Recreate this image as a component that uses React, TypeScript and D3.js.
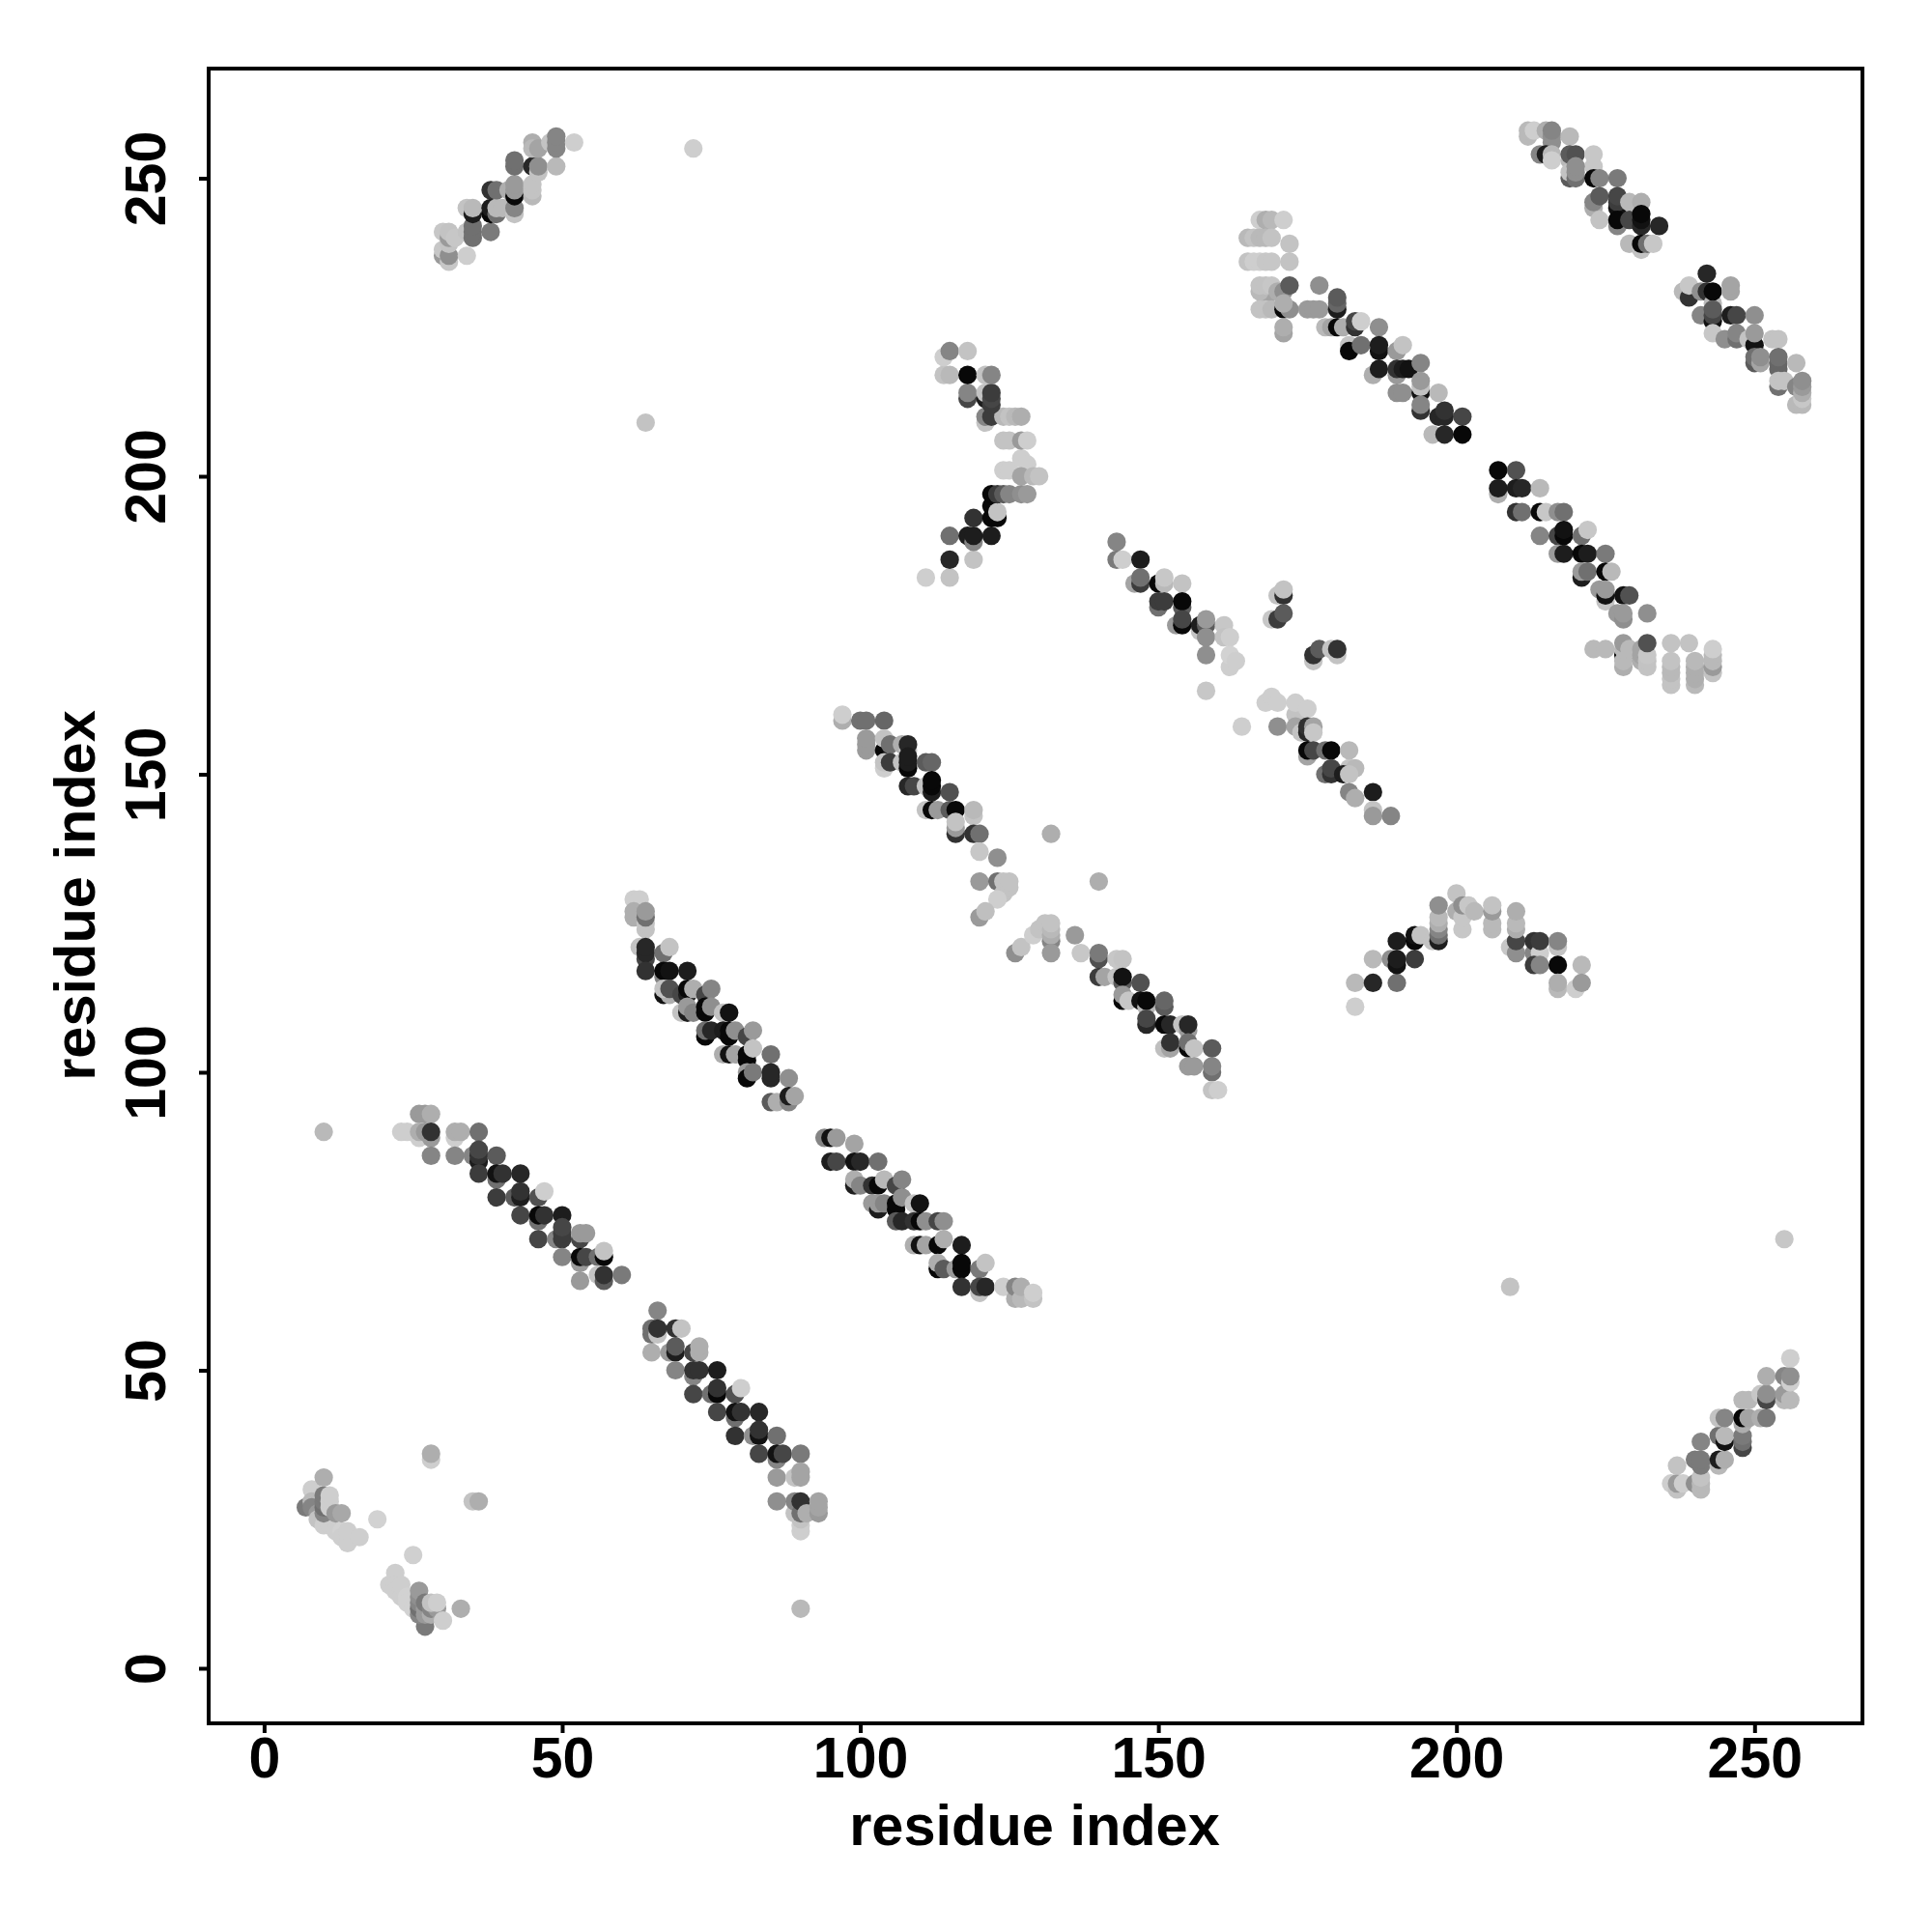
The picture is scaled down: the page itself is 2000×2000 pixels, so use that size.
import * as d3 from 'd3';
import { useEffect, useRef } from 'react';

// each point: [residue i, residue j, score] (score 0 = faint, 10 = strongest)
type Pt = [number, number, number];

const loose: Pt[] = [[10,90,1.5],[209,64,1],[132,140,2],[140,132,2],[90,10,1.5],[64,209,1],[72,255,.5],[255,72,.8],[164,158,.5],[158,164,.8],[28,35,.5],[28,36,2],[35,28,1],[36,28,2],[19,25,.3],[25,19,.4]];

const cornerA: Pt[] = [[7,27,4.5],[8,30,.5],[8,28,1.5],[8,27,4],[9,26,3],[9,25,1],[10,24,.5],[11,24,.5],[12,23,.5],[13,23,.3],[13,22,.5],[14,21,.5],[14,23,.5],[16,22,.5],[10,26,4],[10,27,5],[10,28,4.5],[10,29,4.5],[10,32,2],[11,27,.5],[11,28,.5],[11,29,.5],[12,26,3],[13,26,2.3]];
const cornerB: Pt[] = [[22,16,.5],[21,14,.5],[22,14,.5],[22,13,.5],[23,13,.5],[23,12,.5],[23,14,.5],[24,12,.3],[24,11,.3],[25,10,.3],[27,7,4.5],[26,9,4],[26,10,5],[26,11,4],[26,12,3.5],[26,13,3],[27,9,3],[27,10,3],[27,11,4.5],[28,9,2],[28,10,4],[29,10,3],[33,10,2],[28,11,1],[29,11,.5],[30,8,.5]];

const strandB: Pt[] = [[26,93,3],[27,93,3],[28,93,2],[23,90,.5],[24,90,.5],[26,89,.5],[28,89,3],[26,90,2],[27,90,3],[28,90,8],[32,89,.5],[32,90,2],[33,90,2],[36,90,5],[28,86,4],[32,86,4],[35,86,4],[36,85,9],[36,86,8],[36,87,7],[39,86,6],[36,83,7.5],[39,82,5],[39,83,9.5],[40,83,8],[43,83,8.5],[39,79,7.5],[42,79,6],[43,79,9],[43,80,8],[46,79,6.5],[47,80,.5],[43,76,7],[46,75,5],[46,76,10],[47,76,8],[50,76,9],[46,72,7],[49,72,4],[50,72,7.5],[50,73,7.5],[50,74,7],[53,72,7],[53,73,3],[54,73,3],[50,69,4],[53,68,3],[53,69,10],[54,69,7],[56,69,5],[57,69,10],[57,70,1],[53,65,3],[56,66,1],[57,65,6],[57,66,8],[60,66,4.5]];

const strandC: Pt[] = [[66,60,4],[65,56,5],[65,57,5],[66,56,1],[66,57,8],[69,57,8],[70,57,1],[65,53,2],[68,53,3],[69,53,9],[69,54,6],[72,53,7],[73,53,2],[73,54,2],[69,50,4],[72,49,4],[72,50,8],[73,50,8],[76,50,9],[72,46,7],[75,46,5],[76,46,10],[76,47,8],[79,46,6.5],[80,47,.5],[76,43,7],[79,42,5],[79,43,9.5],[80,43,8],[83,43,8.5],[79,39,8],[82,39,3.5],[83,39,9.5],[83,40,8],[86,39,5],[83,36,7],[86,35,4],[86,36,9.5],[87,36,7],[90,36,4.5],[86,32,3],[89,32,1],[90,32,2.5],[90,33,2.5],[86,28,3.5],[90,23,.5],[90,24,.5],[90,25,1],[89,26,1],[89,28,4],[90,26,5],[90,28,8],[91,26,2],[93,26,3],[93,27,2.5],[93,28,2.5]];

const strandD: Pt[] = [[62,129,.5],[63,129,.5],[62,126,2],[62,127,2],[64,124,1],[64,125,1],[64,126,5],[64,127,3],[63,121,1],[64,119,7],[64,120,8.5],[64,121,8.5],[67,120,5],[68,121,1],[67,116,4],[64,117,8],[67,117,10],[68,117,9.5],[71,117,9],[67,113,9.5],[68,113,2],[67,114,1],[68,114,6.5],[70,113,7],[71,113,9],[71,114,10],[72,114,2],[74,113,7],[75,114,4],[70,110,1],[71,110,9],[71,111,3],[72,110,4],[74,110,10],[74,111,10],[75,111,3.5],[77,110,1],[78,110,9.5],[74,106,10],[74,107,5],[75,107,8.5],[77,107,9],[78,106,10],[78,107,10],[79,107,3.5],[81,106,7],[82,107,3],[77,103,2],[78,103,9.5],[79,103,2.5],[81,102,10],[81,103,10],[82,104,1],[85,103,5],[81,100,3],[81,99,10],[82,100,4.5],[85,99,8.5],[85,100,8.5],[88,99,3.5],[85,95,6],[86,95,2],[88,95,4],[88,96,9],[89,96,2.5]];

const strandE: Pt[] = [[94,89,4],[95,89,9.5],[96,89,3],[99,88,2.5],[95,85,9],[96,85,7],[99,85,9.5],[100,85,8.5],[103,85,5],[99,81,9],[99,82,2],[100,81,4],[102,81,8],[103,81,10],[104,82,1.5],[106,81,7],[107,82,4],[102,78,3],[103,77,9],[103,78,3],[104,78,4],[106,77,10],[106,78,10],[107,79,3.5],[109,78,1],[110,78,9.5],[106,75,6],[107,75,8.5],[109,75,8],[110,75,10],[111,75,3.5],[113,75,7],[114,75,3.5],[109,71,2],[110,71,9.5],[111,71,2.5],[113,71,10],[114,72,2],[117,71,9],[113,67,10],[113,68,2],[114,67,6],[116,67,3],[117,67,10],[117,68,10],[120,67,4.5],[121,68,1],[117,64,8],[120,63,1],[120,64,7],[121,64,8.5],[124,64,.5],[126,62,2],[126,64,4],[127,62,1.5],[127,64,2],[129,62,1],[129,63,.5]];

const strandF: Pt[] = [[97,159,2],[97,160,.5],[100,159,5],[101,159,5],[104,159,5.5],[101,154,3],[101,155,3],[101,156,3],[104,154,10],[104,156,1],[105,155,5],[107,155,2],[108,154,1],[108,155,8.5],[104,151,.5],[104,152,1],[105,152,7.5],[107,152,1],[108,151,10],[108,152,9],[108,153,9],[111,152,6],[112,152,5.5],[108,148,8.5],[109,148,7],[111,148,1],[112,147,9],[112,148,10.5],[112,149,10],[115,147,6.5],[111,144,1],[112,144,10],[113,144,3],[115,144,6],[116,144,10],[119,143,1],[119,144,1.5],[116,140,8],[116,141,3],[116,142,1],[119,140,8],[120,140,5],[120,137,.8],[123,136,3.5],[120,132,3],[123,132,5],[124,130,1],[124,132,1],[125,131,1],[125,132,1],[123,129,.5],[120,126,3],[121,127,1.2]];

const strandG: Pt[] = [[126,120,3.5],[127,121,1],[129,123,.5],[130,124,1],[131,125,1],[132,122,4],[132,123,2],[132,124,1.5],[132,125,1],[132,120,3],[136,123,3],[137,120,.8],[140,119,6.5],[140,120,4.5],[140,116,7.5],[141,116,2.5],[143,119,.8],[144,119,1],[143,116,1],[144,115,6],[144,116,9.5],[147,115,6.5],[144,112,10],[144,113,3],[145,112,.8],[147,112,9.5],[148,111,1.5],[148,112,10.5],[151,111,6],[151,112,5.5],[148,108,8.5],[148,109,7],[151,108,10],[152,108,8.5],[154,108,1],[155,107,3],[155,108,8.5],[151,104,1.2],[152,104,2.5],[152,105,8],[155,104,10],[155,105,5],[156,104,1],[159,104,6],[155,101,3],[156,101,3],[159,100,5],[159,101,4],[159,97,1],[160,97,.5]];

const strandI: Pt[] = [[143,189,4],[143,186,4.5],[144,186,.5],[147,186,9],[146,182,2.5],[147,182,7.5],[147,183,5],[150,182,10],[151,182,1.5],[151,183,.8],[154,182,1],[150,178,5],[150,179,7.5],[151,179,7.5],[154,178,6],[154,179,10],[153,175,3],[154,175,10],[154,176,7],[157,174,1],[157,175,9],[158,175,6],[158,176,3],[158,173,3.5],[161,175,.8],[161,173,1],[162,173,.5],[158,170,3.5],[162,168,.5],[162,170,.3],[163,169,.5],[170,180,1],[171,180,8],[171,181,1],[169,176,.8],[170,176,7.5],[171,177,6],[176,169,1],[176,170,8],[177,171,6],[179,171,1],[180,170,1],[180,171,8],[168,162,.5],[169,163,.5],[170,162,.5],[173,160,1],[173,162,.5],[175,161,.5],[170,158,3.5],[173,158,2.5],[174,157,1],[175,157,8.5],[175,158,8],[176,158,2.5],[176,157,.8],[175,153,2.5],[175,154,10],[176,154,7],[178,154,5],[179,154,10],[182,154,1.5],[178,150,5],[179,150,8],[179,151,7],[182,151,1],[183,151,1.5],[181,150,9],[182,150,1],[182,147,4],[183,146,2],[186,147,9],[186,144,1],[186,143,3],[189,143,4]];

const curveH: Pt[] = [[111,183,.5],[115,183,1],[115,186,8.5],[119,186,1],[115,190,5],[118,190,9],[119,189,4],[119,190,9],[122,190,9],[119,193,8],[122,193,10],[122,195,10],[123,193,10],[123,194,1],[122,197,10],[123,197,7.5],[124,197,6],[125,197,4],[127,197,3.5],[128,197,3],[124,201,.5],[125,201,.5],[127,203,.5],[128,202,.5],[127,200,2.5],[129,200,1.5],[130,200,1],[124,206,1],[125,206,1],[127,206,3],[128,206,.5],[121,209,1],[121,210,4],[122,210,7.5],[124,210,1.5],[125,210,1],[126,210,1.5],[127,210,2],[118,213,7],[118,214,4],[121,213,9],[121,214,1],[122,212,7.5],[122,213,7],[122,214,7.5],[114,217,1],[115,217,1.5],[118,217,10.5],[121,217,1],[122,217,4],[114,220,.5],[115,221,4],[118,221,1]];

const strandTopLeft: Pt[] = [[30,237,3],[30,238,.8],[31,236,.8],[31,237,3.5],[34,237,.5],[30,241,.8],[31,239,1],[31,240,3],[31,241,1],[32,240,.8],[34,241,1],[35,240,5],[35,241,5],[35,242,5],[38,241,4.5],[34,245,1],[35,244,9],[35,245,1.5],[38,244,10],[38,245,9],[39,244,5],[39,245,1.5],[40,245,1.5],[42,244,1],[42,245,4],[38,248,8],[39,248,5],[41,248,2],[42,247,10],[42,248,3],[42,249,3],[45,247,1.5],[45,248,1],[45,249,1],[42,252,5],[42,253,5],[45,252,8.5],[46,251,1],[46,252,3.5],[49,252,1.5],[45,256,2],[45,255,1.5],[46,255,2.5],[48,256,1],[49,255,4],[49,256,4],[49,257,4],[52,256,.5]];

const strandTopRight: Pt[] = [[212,257,1.5],[212,258,1.5],[213,258,.5],[215,258,2],[216,256,3.5],[216,257,3.5],[216,258,4],[219,257,1.5],[214,254,4],[215,254,9],[216,254,1.5],[216,253,.5],[219,253,1.5],[219,254,6],[220,254,6.5],[223,252,.8],[223,254,.8],[219,250,6],[219,251,1],[220,250,5],[220,251,3.5],[220,252,3.5],[223,250,10],[224,250,4],[227,250,4.5],[223,245,2],[223,246,4],[224,247,6],[227,245,9.5],[227,246,7.5],[227,247,7],[229,246,1.5],[231,246,2],[224,243,1],[227,242,4],[227,243,10],[229,243,7],[231,242,8.5],[231,243,9.5],[231,244,10],[234,242,8.5],[229,239,1.5],[231,238,1],[231,239,10],[232,239,5],[233,239,.8]];

const strandFarRight: Pt[] = [[242,234,8.5],[238,231,1.5],[239,230,8],[239,232,.8],[241,231,3.5],[242,231,8],[243,229,1.5],[243,231,10],[246,231,2.5],[246,232,2.5],[241,227,4],[243,226,9.5],[243,227,7],[243,228,6],[246,227,9],[247,227,7],[250,227,3.5],[243,224,.8],[245,223,3.5],[247,223,5],[247,224,4],[249,223,1],[250,222,9.5],[250,224,3],[253,223,1],[254,223,1],[250,219,6],[250,220,5],[251,219,2.5],[251,220,3.5],[254,218,5.5],[254,219,5.5],[254,220,5],[257,219,1.5],[254,215,5],[254,216,1],[255,216,1],[257,212,1.5],[258,212,1.5],[258,213,.8],[257,215,4],[258,214,2],[258,215,3],[258,216,3.5]];

const blockTop: Pt[] = [[167,243,.5],[168,243,2],[169,243,1.5],[171,243,.5],[165,240,1.5],[166,240,1],[167,240,1.5],[168,240,1.5],[169,240,1],[172,239,1],[165,236,1],[166,236,.5],[167,236,.5],[168,236,.8],[169,236,.8],[172,236,1],[168,230,2.5],[167,231,1.5],[167,232,1],[168,232,1],[169,232,.8],[170,231,2],[171,231,3.5],[172,232,6],[167,228,1],[168,228,1],[169,228,1.5],[171,228,10],[172,228,3.5],[171,229,2],[171,224,2.5],[171,225,2]];

const strandLongA: Pt[] = [[177,232,3.5],[175,228,3],[176,228,3],[177,228,3],[180,228,9],[180,229,5.5],[180,230,6],[178,225,1.5],[179,225,2.5],[180,225,10],[181,225,2],[183,225,8],[183,226,7],[184,226,.5],[187,225,3.5],[182,222,1],[182,221,10],[184,222,5],[187,221,9.5],[187,222,9],[190,221,3],[191,222,1],[186,217,2],[187,218,9],[190,217,3],[190,218,8],[191,218,9],[192,218,9.5],[194,219,4],[190,214,3.5],[191,214,3.5],[194,214,9.5],[194,215,1],[194,216,3],[197,214,1.5],[194,211,8],[194,212,4],[197,210,8.5],[198,210,8.5],[198,211,8],[201,210,7],[196,207,1.5],[198,207,8.5],[201,207,10]];

const strandLongB: Pt[] = [[207,201,10],[210,201,6.5],[207,197,2],[207,198,9],[210,198,9],[211,198,8.5],[214,198,1.5],[210,194,8],[211,194,5],[214,194,10],[215,194,.8],[217,194,3.5],[218,194,5],[214,190,4],[217,190,7],[218,190,10],[218,191,9.5],[221,190,5],[222,191,.8],[217,187,3],[218,187,9],[221,187,10],[222,187,9],[225,187,4.5],[221,183,9],[221,184,3],[222,184,5],[225,184,10],[226,184,1.5],[224,181,3],[225,179,1],[225,180,9.5],[225,181,3],[228,180,9.5],[229,180,6.5],[227,177,3],[228,176,3.5],[228,177,3],[232,177,3.5]];

const blockBottom: Pt[] = [[223,171,1.5],[225,171,1.5],[228,170,10],[228,168,2],[228,169,1.5],[228,171,1.5],[228,172,3],[229,171,1.5],[231,169,2],[231,170,2.5],[231,171,2.5],[232,168,1],[232,169,1],[232,170,.8],[232,172,6.5],[236,165,1],[236,166,1],[236,167,1.5],[236,168,1.5],[236,169,1],[236,172,1],[239,172,1],[240,165,1.5],[240,166,2],[240,167,2],[240,168,2],[240,169,1.5],[243,167,1],[243,168,3],[243,169,1.5],[243,170,1.5],[243,171,.5]];

const curveJ: Pt[] = [[183,111,.5],[183,115,1.5],[186,115,8.5],[186,119,1.5],[190,115,5],[189,119,3.5],[190,118,9.5],[190,119,9],[193,119,7.5],[190,122,9],[193,122,10],[193,123,9.5],[194,123,1],[196,122,1],[197,122,9],[197,123,5],[197,124,4],[197,125,2],[197,126,1.5],[197,128,3.5],[200,127,2],[200,130,1],[201,124,.8],[201,126,.8],[201,128,3.5],[202,128,.8],[203,127,1.5],[206,124,1.5],[206,125,1.5],[206,127,3],[206,128,1],[209,121,.8],[210,120,3.5],[210,122,7],[210,124,2],[210,125,1.5],[210,127,2],[213,120,4],[213,122,8],[214,120,.5],[214,122,7.5],[217,121,1],[217,122,4],[213,118,7.5],[214,118,4],[217,118,10.5],[221,118,1.5],[217,114,1.5],[217,115,2],[220,114,.5],[221,115,3]];

const strandK: Pt[] = [[236,31,.5],[237,30,1],[237,31,3],[238,31,.5],[237,34,1],[240,31,3.5],[241,30,1.5],[241,31,1.5],[241,32,1],[240,35,4.5],[241,34,4.5],[241,35,4.5],[244,34,1.5],[244,35,9],[245,35,2],[241,38,4],[244,39,5],[245,38,9.5],[245,39,1.5],[248,37,7],[248,38,5],[248,39,4.5],[244,42,1],[245,42,4],[248,41,2],[248,42,10],[249,42,2.5],[251,42,2],[252,42,4.5],[248,45,1.5],[249,45,1.5],[251,46,.8],[252,45,7],[252,46,3.5],[255,45,1.5],[255,46,3],[256,45,1.5],[252,49,2],[255,49,4],[256,48,.5],[256,49,3.5],[256,52,.5]];

const groups: Pt[][] = [loose, cornerA, cornerB, strandB, strandC, strandD, strandE, strandF, strandG, strandI, curveH, strandTopLeft, strandTopRight, strandFarRight, blockTop, strandLongA, strandLongB, blockBottom, curveJ, strandK];

const xTicks = [0, 50, 100, 150, 200, 250];
const yTicks = [0, 50, 100, 150, 200, 250];
const axisLabel = 'residue index';

export default function App() {
  const ref = useRef<SVGSVGElement | null>(null);

  useEffect(() => {
    const svg = d3.select(ref.current);
    svg.selectAll('*').remove();

    const size = 2000;
    const margin = { top: 71, right: 72, bottom: 216, left: 216 };
    svg.attr('width', size).attr('height', size);

    const x = d3.scaleLinear().domain([-9.3, 268.1]).range([margin.left, size - margin.right]);
    const y = d3.scaleLinear().domain([-9.24, 268.4]).range([size - margin.bottom, margin.top]);
    const grey = d3.scaleLinear<string>().domain([0, 10]).range(['#d8d8d8', '#080808']).clamp(true);

    const plot = svg.append('g');
    groups.forEach(pts => {
      plot.append('g')
        .selectAll('circle')
        .data(pts)
        .join('circle')
        .attr('cx', d => x(d[0]))
        .attr('cy', d => y(d[1]))
        .attr('r', 9.6)
        .attr('fill', d => grey(d[2]));
    });

    const font = '"Liberation Sans", Arial, sans-serif';

    const xAxis = svg.append('g')
      .attr('transform', `translate(0,${size - margin.bottom})`)
      .call(d3.axisBottom(x).tickValues(xTicks).tickSize(10).tickPadding(12).tickFormat(d3.format('d')));
    const yAxis = svg.append('g')
      .attr('transform', `translate(${margin.left},0)`)
      .call(d3.axisLeft(y).tickValues(yTicks).tickSize(10).tickFormat(d3.format('d')));

    [xAxis, yAxis].forEach(g => {
      g.select('.domain').remove();
      g.selectAll('.tick line').attr('stroke', '#000').attr('stroke-width', 4);
      g.selectAll('.tick text')
        .attr('fill', '#000')
        .style('font-family', font)
        .style('font-size', '59px')
        .style('font-weight', 'bold');
    });

    xAxis.selectAll('.tick text').attr('y', 56).attr('dy', 0);
    yAxis.selectAll('.tick text')
      .attr('x', 0).attr('y', 0).attr('dy', 0)
      .attr('text-anchor', 'middle')
      .attr('transform', 'translate(-45,0) rotate(-90)');

    svg.append('rect')
      .attr('x', margin.left).attr('y', margin.top)
      .attr('width', size - margin.left - margin.right)
      .attr('height', size - margin.top - margin.bottom)
      .attr('fill', 'none')
      .attr('stroke', '#000')
      .attr('stroke-width', 4);

    svg.append('text')
      .attr('x', 1071).attr('y', 1910)
      .attr('text-anchor', 'middle')
      .style('font-family', font).style('font-size', '59.5px').style('font-weight', 'bold')
      .text(axisLabel);
    svg.append('text')
      .attr('transform', 'translate(98,927) rotate(-90)')
      .attr('text-anchor', 'middle')
      .style('font-family', font).style('font-size', '59.5px').style('font-weight', 'bold')
      .text(axisLabel);
  }, []);

  return <svg ref={ref} style={{ position: 'absolute', left: 0, top: 0, background: '#fff' }}></svg>;
}
